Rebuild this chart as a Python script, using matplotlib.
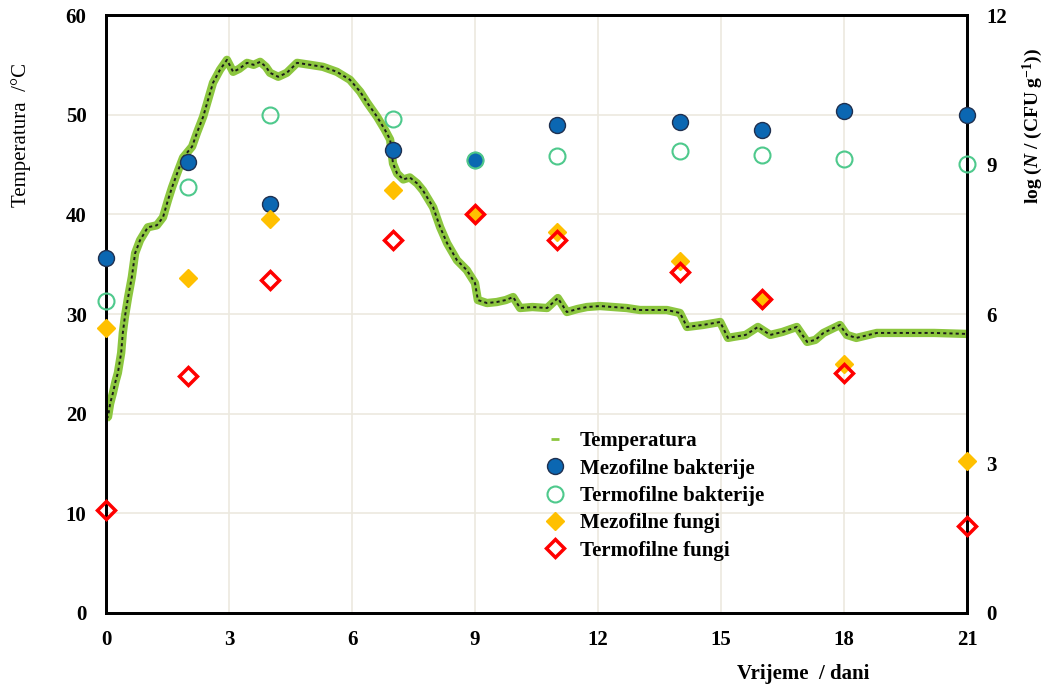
import matplotlib
matplotlib.use("Agg")
import matplotlib.pyplot as plt
from matplotlib.lines import Line2D

plt.rcParams['font.family'] = ['Liberation Serif', 'DejaVu Serif']
plt.rcParams['mathtext.fontset'] = 'custom'
plt.rcParams['mathtext.rm'] = 'Liberation Serif:bold'
plt.rcParams['mathtext.it'] = 'Liberation Serif:italic:bold'
plt.rcParams['mathtext.bf'] = 'Liberation Serif:bold'

# Temperature trace (days, °C)
temp_t = [0.00, 0.05, 0.10, 0.17, 0.23, 0.29, 0.37, 0.41, 0.46, 0.54, 0.63, 0.71, 0.83,
          1.02, 1.24, 1.39, 1.51, 1.61, 1.76, 1.88, 2.10, 2.22, 2.37, 2.49, 2.61, 2.78,
          2.95, 3.10, 3.25, 3.44, 3.60, 3.76, 3.90, 4.00, 4.20, 4.41, 4.66, 4.98, 5.29,
          5.63, 5.95, 6.20, 6.37, 6.61, 6.80, 6.93, 7.00, 7.10, 7.25, 7.41, 7.59, 7.73,
          7.98, 8.15, 8.32, 8.56, 8.80, 9.00, 9.07, 9.29, 9.53, 9.75, 9.93, 10.10, 10.40,
          10.76, 11.02, 11.24, 11.50, 11.73, 12.05, 12.37, 12.70, 13.02, 13.35, 13.68,
          14.00, 14.17, 14.56, 14.98, 15.17, 15.30, 15.60, 15.90, 16.20, 16.50, 16.85,
          17.10, 17.30, 17.50, 17.90, 18.07, 18.30, 18.80, 19.50, 20.20, 21.00]
temp_v = [19.5, 19.7, 21.0, 22.1, 23.2, 24.1, 26.1, 28.1, 29.7, 31.7, 33.7, 36.1, 37.4,
          38.7, 38.9, 39.7, 41.4, 42.7, 44.4, 45.7, 46.8, 48.2, 49.8, 51.5, 53.2, 54.5,
          55.5, 54.3, 54.6, 55.2, 55.0, 55.3, 54.8, 54.2, 53.8, 54.2, 55.2, 55.0, 54.8,
          54.3, 53.5, 52.3, 51.2, 49.8, 48.5, 47.5, 45.1, 44.1, 43.5, 43.7, 43.1, 42.4,
          40.7, 38.7, 37.1, 35.4, 34.4, 33.1, 31.4, 31.1, 31.2, 31.4, 31.7, 30.6, 30.7,
          30.6, 31.6, 30.2, 30.5, 30.7, 30.8, 30.7, 30.6, 30.4, 30.4, 30.4,
          30.1, 28.7, 28.9, 29.2, 27.6, 27.7, 27.9, 28.7, 27.9, 28.2, 28.7,
          27.2, 27.4, 28.1, 28.9, 27.9, 27.6, 28.1, 28.1, 28.1, 28.0]

# Microbial counts (days, log N)
days = [0, 2, 4, 7, 9, 11, 14, 16, 18, 21]
mezo_bakt = [7.12, 9.05, 8.21, 9.29, 9.09, 9.79, 9.85, 9.69, 10.07, 9.99]
termo_bakt = [6.26, 8.55, 9.99, 9.91, 9.09, 9.17, 9.27, 9.19, 9.11, 9.01]
mezo_fungi = [5.72, 6.72, 7.91, 8.49, 8.01, 7.65, 7.06, 6.28, 5.00, 3.05]
termo_fungi = [2.07, 4.76, 6.68, 7.49, 8.01, 7.49, 6.84, 6.30, 4.82, 1.75]

x_ticks = [0, 3, 6, 9, 12, 15, 18, 21]
y_left_ticks = [0, 10, 20, 30, 40, 50, 60]
y_right_ticks = [0, 3, 6, 9, 12]

fig = plt.figure(figsize=(10.43, 6.85), dpi=100)
ax = fig.add_axes([106/1043, 1-613/685, (967-106)/1043, (613-15)/685])
ax2 = ax.twinx()

grid_c = '#ece9df'
for xv in x_ticks[1:-1]:
    ax.axvline(xv, color=grid_c, lw=1.2, zorder=0)
for yv in y_left_ticks[1:-1]:
    ax.axhline(yv, color=grid_c, lw=1.2, zorder=0)

ax.plot(temp_t, temp_v, color='#8cc63f', lw=6, solid_capstyle='butt', zorder=2)
ax.plot(temp_t, temp_v, color='#1a1a1a', lw=1.4, dashes=(1.6, 1.6), zorder=3)

ax.set_xlim(0, 21)
ax.set_ylim(0, 60)
ax2.set_ylim(0, 12)
ax.set_xticks(x_ticks)
ax.set_yticks(y_left_ticks)
ax2.set_yticks(y_right_ticks)

l1, = ax2.plot(days, mezo_bakt, 'o', ms=11.5, mfc='#0b67b2', mec='#1f3050', mew=1.0,
               clip_on=False, zorder=4)
l2, = ax2.plot(days, termo_bakt, 'o', ms=11.5, mfc='none', mec='#4ec98c', mew=1.5,
               clip_on=False, zorder=5)
l3, = ax2.plot(days, mezo_fungi, 'D', ms=9, mfc='#ffc000', mec='#ffc000', mew=1,
               clip_on=False, zorder=6)
l4, = ax2.plot(days, termo_fungi, 'D', ms=9, mfc='none', mec='#ff0000', mew=2.5,
               clip_on=False, zorder=7)

for a in (ax, ax2):
    a.tick_params(length=0)
    for s in a.spines.values():
        s.set_linewidth(2)
        s.set_color('black')
for lab in ax.get_xticklabels() + ax.get_yticklabels() + ax2.get_yticklabels():
    lab.set_fontsize(15)
    lab.set_fontweight('bold')
ax.tick_params(axis='x', pad=12)
ax.tick_params(axis='y', pad=14)
ax2.tick_params(axis='y', pad=14)

ax.set_ylabel('Temperatura  /°C', fontsize=15)
ax.yaxis.set_label_coords(-0.087, 0.80)
ax2.set_ylabel(r'log ($\mathit{N}$ / (CFU g$^{-1}$))', fontsize=14, fontweight='bold')
ax2.yaxis.set_label_coords(1.062, 0.815)
ax.set_xlabel('Vrijeme  / dani', fontsize=15, fontweight='bold')
ax.xaxis.set_label_coords(0.81, -0.085)

lt = Line2D([], [], linestyle='none', marker='_', ms=6, mew=2, color='#8cc63f')
leg = ax2.legend([lt, l1, l2, l3, l4],
                 ['Temperatura', 'Mezofilne bakterije', 'Termofilne bakterije',
                  'Mezofilne fungi', 'Termofilne fungi'],
                 loc='upper left', bbox_to_anchor=(0.485, 0.335), frameon=False,
                 prop=dict(size=15, weight='bold'), handletextpad=0.6,
                 labelspacing=0.35, handlelength=1.2)

fig.savefig('out.png', dpi=100)
